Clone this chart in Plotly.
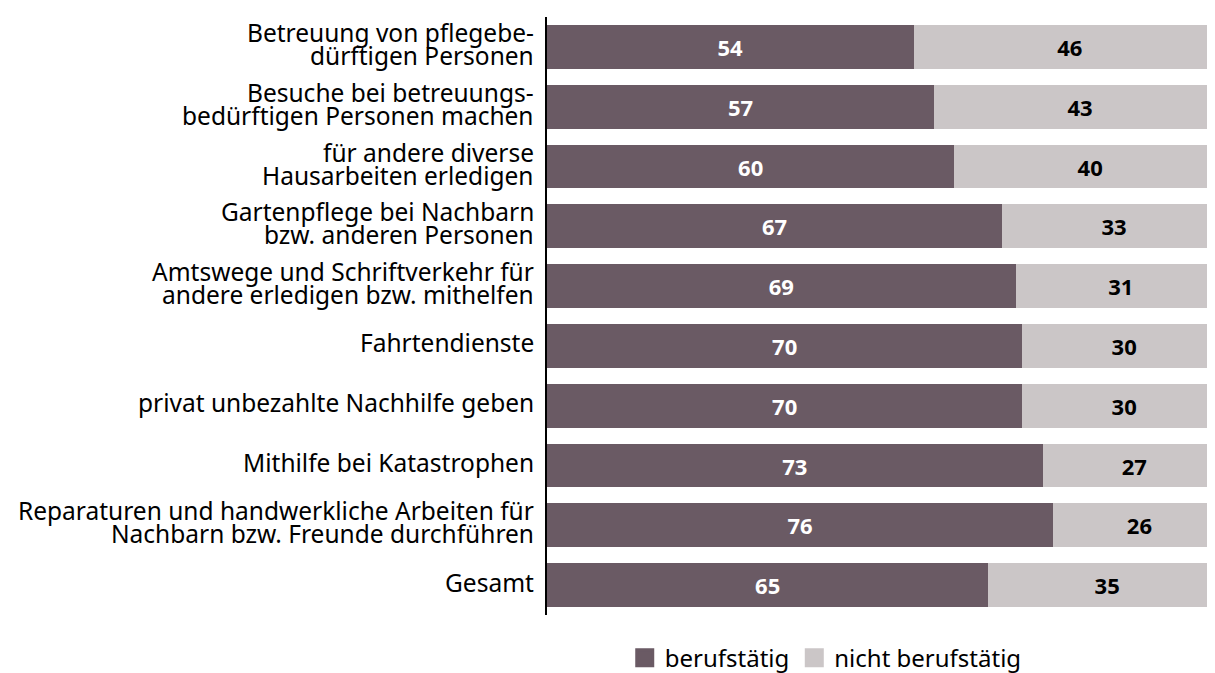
import plotly.graph_objects as go

categories = [
    "Betreuung von pflegebe-<br>dürftigen Personen",
    "Besuche bei betreuungs-<br>bedürftigen Personen machen",
    "für andere diverse<br>Hausarbeiten erledigen",
    "Gartenpflege bei Nachbarn<br>bzw. anderen Personen",
    "Amtswege und Schriftverkehr für<br>andere erledigen bzw. mithelfen",
    "Fahrtendienste",
    "privat unbezahlte Nachhilfe geben",
    "Mithilfe bei Katastrophen",
    "Reparaturen und handwerkliche Arbeiten für<br>Nachbarn bzw. Freunde durchführen",
    "Gesamt",
]
berufstaetig = [54, 57, 60, 67, 69, 70, 70, 73, 76, 65]
nicht_berufstaetig = [46, 43, 40, 33, 31, 30, 30, 27, 26, 35]

DARK = "#6a5a64"
LIGHT = "#cbc6c7"
FONT = "Noto Sans, sans-serif"

fig = go.Figure()
fig.add_trace(go.Bar(
    y=categories, x=berufstaetig, orientation="h", name="berufstätig",
    marker=dict(color=DARK, line=dict(width=0)),
    text=[str(v) for v in berufstaetig], textposition="inside",
    insidetextanchor="middle",
    textfont=dict(color="white", size=22, family=FONT, weight="bold"),
    showlegend=False, hoverinfo="skip",
))
fig.add_trace(go.Bar(
    y=categories, x=nicht_berufstaetig, orientation="h", name="nicht berufstätig",
    marker=dict(color=LIGHT, line=dict(width=0)),
    text=[str(v) for v in nicht_berufstaetig], textposition="inside",
    insidetextanchor="middle",
    textfont=dict(color="black", size=22, family=FONT, weight="bold"),
    showlegend=False, hoverinfo="skip",
))
# legend entries with bigger square symbols
for name, col in [("berufstätig", DARK), ("nicht berufstätig", LIGHT)]:
    fig.add_trace(go.Scatter(
        x=[None], y=[None], mode="markers", name=name,
        marker=dict(symbol="square", size=16, color=col, line=dict(color=col, width=3)),
    ))

# category labels with tight line spacing
LINE = 23
for cat in categories:
    lines = cat.split("<br>")
    n = len(lines)
    for i, txt in enumerate(lines):
        fig.add_annotation(
            x=0, xref="paper", y=cat, yref="y", text=txt, showarrow=False,
            xanchor="right", yanchor="middle", xshift=-11,
            yshift=((n - 1) / 2 - i) * LINE + 3,
            font=dict(family=FONT, size=24.5, color="black"),
        )

fig.update_layout(
    width=1215, height=673,
    barmode="stack", barnorm="percent", bargap=0.267,
    plot_bgcolor="white", paper_bgcolor="white",
    margin=dict(l=539, r=0, t=9, b=64),
    font=dict(family=FONT, size=24, color="black"),
    uniformtext=dict(mode="show", minsize=20),
    legend=dict(orientation="h", x=0.115, xanchor="left", y=-0.072, yanchor="middle",
                font=dict(size=24), traceorder="normal"),
)
fig.update_xaxes(range=[0, 99.56], visible=False, fixedrange=True)
fig.update_yaxes(autorange="reversed", showline=True, linecolor="black", linewidth=2,
                 ticks="", showticklabels=False, showgrid=False, fixedrange=True)

fig.write_html("out.html")
